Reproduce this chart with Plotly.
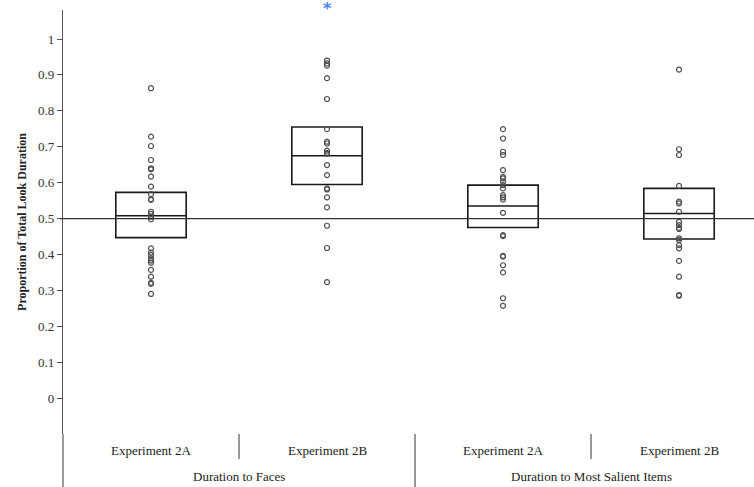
import plotly.graph_objects as go

categories = ["Faces 2A", "Faces 2B", "Salient 2A", "Salient 2B"]
sub_labels = ["Experiment 2A", "Experiment 2B", "Experiment 2A", "Experiment 2B"]
group_labels = ["Duration to Faces", "Duration to Most Salient Items"]

faces_2a = [0.863, 0.728, 0.702, 0.663, 0.640, 0.637, 0.617, 0.589, 0.568, 0.554,
            0.552, 0.519, 0.513, 0.505, 0.498, 0.417, 0.405, 0.398, 0.389, 0.383,
            0.377, 0.357, 0.338, 0.321, 0.318, 0.290]
faces_2b = [0.940, 0.932, 0.926, 0.891, 0.833, 0.749, 0.714, 0.709, 0.689, 0.683,
            0.680, 0.649, 0.621, 0.584, 0.581, 0.559, 0.531, 0.480, 0.418, 0.323]
salient_2a = [0.749, 0.723, 0.686, 0.677, 0.635, 0.616, 0.612, 0.603, 0.593, 0.584,
              0.565, 0.559, 0.553, 0.516, 0.454, 0.451, 0.396, 0.394, 0.370, 0.350,
              0.278, 0.257]
salient_2b = [0.915, 0.693, 0.677, 0.591, 0.547, 0.542, 0.519, 0.491, 0.482, 0.474,
              0.471, 0.445, 0.440, 0.426, 0.417, 0.382, 0.338, 0.287, 0.285]
series = [faces_2a, faces_2b, salient_2a, salient_2b]

q1 = [0.447, 0.595, 0.475, 0.443]
median = [0.508, 0.675, 0.535, 0.514]
q3 = [0.573, 0.755, 0.593, 0.584]

chance_level = 0.5
star_category = "Faces 2B"
star_value = 1.09

y_range = [-0.1, 1.0808]
y_ticks = [0, 0.1, 0.2, 0.3, 0.4, 0.5, 0.6, 0.7, 0.8, 0.9, 1]
y_tick_text = ["0", "0.1", "0.2", "0.3", "0.4", "0.5", "0.6", "0.7", "0.8", "0.9", "1"]

SERIF = "Liberation Serif"
TXT = "#222222"

fig = go.Figure()

# boxes (no whiskers)
fig.add_trace(go.Box(
    x=categories, q1=q1, median=median, q3=q3,
    lowerfence=q1, upperfence=q3,
    width=0.4, fillcolor="rgba(0,0,0,0)",
    line=dict(color="#1a1a1a", width=1.6),
    boxpoints=False, showlegend=False, hoverinfo="skip",
))

# individual points
for cat, vals in zip(categories, series):
    fig.add_trace(go.Scatter(
        x=[cat] * len(vals), y=vals, mode="markers",
        marker=dict(symbol="circle-open", size=5, color="#505050",
                    line=dict(width=1.2, color="#505050")),
        showlegend=False,
    ))

plot_h = 424.0
shapes = [
    # chance line
    dict(type="line", xref="paper", yref="y", x0=-0.005, x1=1,
         y0=chance_level, y1=chance_level, line=dict(color="#333333", width=1.2)),
    # left line extension through label area
    dict(type="line", xref="paper", yref="paper", x0=0, x1=0,
         y0=0, y1=-53 / plot_h, line=dict(color="#555555", width=1.2)),
    # short dividers
    dict(type="line", xref="x", yref="paper", x0=0.5, x1=0.5,
         y0=0, y1=-25 / plot_h, line=dict(color="#555555", width=1.2)),
    dict(type="line", xref="x", yref="paper", x0=2.5, x1=2.5,
         y0=0, y1=-25 / plot_h, line=dict(color="#555555", width=1.2)),
    # group divider
    dict(type="line", xref="x", yref="paper", x0=1.5, x1=1.5,
         y0=0, y1=-53 / plot_h, line=dict(color="#555555", width=1.2)),
]

annotations = []
for i, lab in enumerate(sub_labels):
    annotations.append(dict(x=i, xref="x", y=0, yref="paper", yshift=-16,
                            text=lab, showarrow=False, yanchor="middle",
                            font=dict(family=SERIF, size=13, color=TXT)))
for j, lab in enumerate(group_labels):
    annotations.append(dict(x=0.5 + 2 * j, xref="x", y=0, yref="paper", yshift=-42,
                            text=lab, showarrow=False, yanchor="middle",
                            font=dict(family=SERIF, size=13, color=TXT)))
# significance star (above the axis range, so placed in paper units)
star_paper_y = (star_value - y_range[0]) / (y_range[1] - y_range[0])
annotations.append(dict(x=star_category, xref="x", y=star_paper_y, yref="paper",
                        text="<b>*</b>", showarrow=False, yanchor="middle", yshift=-2,
                        font=dict(family="DejaVu Sans", size=16, color="#4a86f5")))

fig.update_layout(
    width=754, height=487,
    margin=dict(l=63, r=0, t=10, b=53, autoexpand=False),
    paper_bgcolor="white", plot_bgcolor="white",
    shapes=shapes, annotations=annotations,
    xaxis=dict(type="category", categoryorder="array", categoryarray=categories,
               range=[-0.5, 3.426], visible=False, fixedrange=True, automargin=False),
    yaxis=dict(range=y_range, tickvals=y_ticks, ticktext=y_tick_text,
               automargin=False,
               showgrid=False, zeroline=False, showline=True,
               linecolor="#555555", linewidth=1.2,
               ticks="outside", ticklen=5, tickcolor="#555555",
               tickfont=dict(family=SERIF, size=13, color="#333333"),
               title=dict(text="<b>Proportion of Total Look Duration</b>",
                          font=dict(family=SERIF, size=12, color=TXT), standoff=8)),
)

fig.write_html("out.html", config={"displayModeBar": False},
               post_script="document.body.style.margin='0';document.body.style.overflow='hidden';")
